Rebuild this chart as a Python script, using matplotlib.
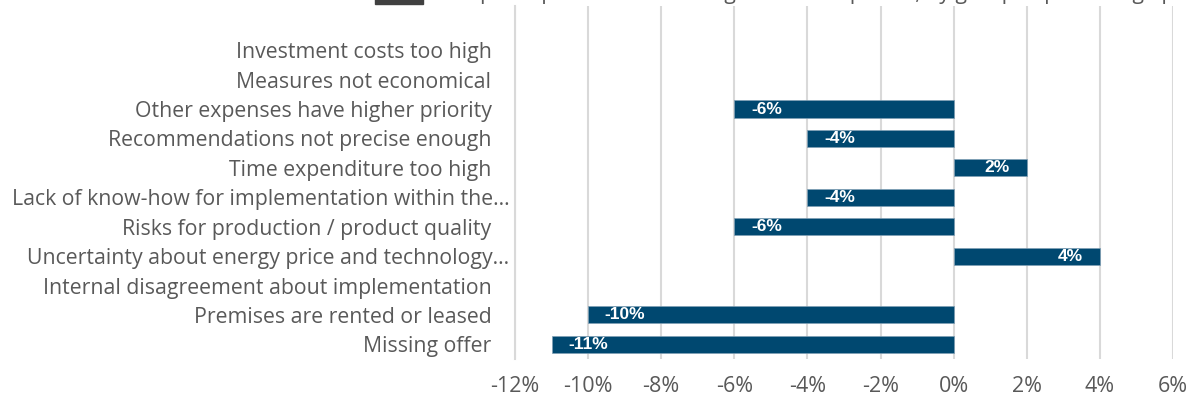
import numpy as np
import matplotlib.pyplot as plt
from matplotlib.patches import Rectangle
from matplotlib.transforms import ScaledTranslation

# Daten
categories = ["Investment costs too high", "Measures not economical",
              "Other expenses have higher priority", "Recommendations not precise enough",
              "Time expenditure too high", "Lack of know-how for implementation within the...",
              "Risks for production / product quality", "Uncertainty about energy price and technology...",
              "Internal disagreement about implementation", "Premises are rented or leased",
              "Missing offer"]
values = [np.nan, np.nan, -6, -4, 2, -4, -6, 4, np.nan, -10, -11]
xticks = [-12, -10, -8, -6, -4, -2, 0, 2, 4, 6]
titel = "Group compared to the average of all companies, by group in percentage points"

cor_barra = "#004870"
cor_texto = "#595959"
cor_grade = "#d9d9d9"
fonte = "Open Sans"

fig = plt.figure(figsize=(11.95, 4.03), dpi=100)
ax = fig.add_axes([0.431, 0.109, 0.5505, 0.876])

pos = np.arange(len(categories))
vals = np.array(values, dtype=float)
ok = ~np.isnan(vals)
ax.barh(pos[ok], vals[ok], height=0.58, color=cor_barra,
        edgecolor="#7f9fb5", linewidth=0.5, zorder=3)

# Rotulos dentro das barras
for y, v in zip(pos[ok], vals[ok]):
    if v < 0:
        dx, ha = 12, "left"
    else:
        dx, ha = -12, "right"
    ax.annotate(f"{v:.0f}%", (v, y), xytext=(dx, 0), textcoords="offset points",
                ha=ha, va="center", color="white", fontsize=12.5,
                fontweight="bold", family="Liberation Sans", zorder=4)

ax.set_ylim(10.5, -1.5)
ax.set_xlim(-12, 6)
ax.set_yticks(pos)
ax.set_yticklabels(categories, fontsize=15.3, color=cor_texto, family=fonte)
ax.set_xticks(xticks)
ax.set_xticklabels([f"{t}%" for t in xticks], fontsize=15.5, color=cor_texto, family=fonte)
ax.tick_params(axis="both", length=0)
ax.tick_params(axis="y", pad=4)
ax.tick_params(axis="x", pad=12)

# rotulos sem reticencias ficam um pouco mais para a esquerda
desloc = ScaledTranslation(-18 / 100, 0, fig.dpi_scale_trans)
for lab in ax.get_yticklabels():
    if not lab.get_text().endswith("..."):
        lab.set_transform(lab.get_transform() + desloc)

ax.grid(axis="x", color=cor_grade, linewidth=1.5, zorder=0)
for lado in ["top", "right", "bottom"]:
    ax.spines[lado].set_visible(False)
ax.spines["left"].set_color(cor_grade)
ax.spines["left"].set_linewidth(1.5)

# Legenda cortada no topo
fig.patches.append(Rectangle((375 / 1195, 1 - 4 / 403), 48 / 1195, 6 / 403,
                             transform=fig.transFigure, color="#404040"))
fig.text(430 / 1195, 1.0 + 1 / 403, titel, fontsize=15.3, color=cor_texto,
         family=fonte, ha="left", va="baseline")

fig.savefig("out.png", dpi=100)
